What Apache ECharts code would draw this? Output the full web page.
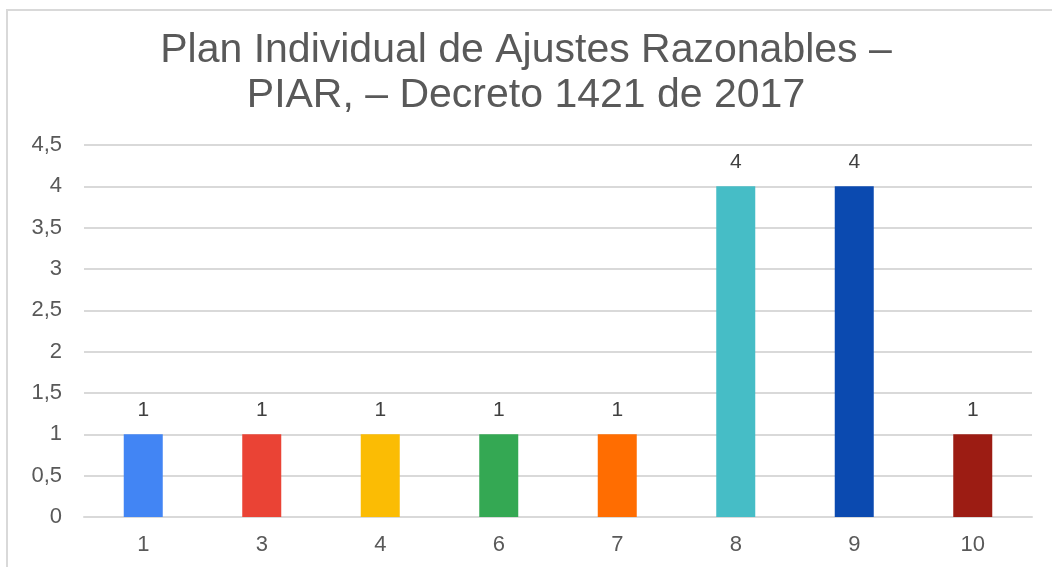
<!DOCTYPE html>
<html>
<head>
<meta charset="utf-8">
<script src="https://cdn.jsdelivr.net/npm/echarts@6/dist/echarts.min.js"></script>
<style>
  html, body { margin: 0; padding: 0; background: #fff; }
  #chart { width: 1052px; height: 567px; }
</style>
</head>
<body>
<div id="chart"></div>
<script>
// categorías y valores
var categories = ['1', '3', '4', '6', '7', '8', '9', '10']
var values = [1, 1, 1, 1, 1, 4, 4, 1]
var barColors = ['#4285F4', '#EA4335', '#FBBC04', '#34A853', '#FF6D01', '#46BDC6', '#0B4AB0', '#9C1C13']
var titleLines = ['Plan Individual de Ajustes Razonables –', 'PIAR, – Decreto 1421 de 2017']

var myChart = echarts.init(document.getElementById('chart'))
var font = 'Arial, "Liberation Sans", sans-serif'

myChart.setOption({
  animation: false,
  textStyle: { fontFamily: font },
  graphic: [{
    type: 'rect',
    shape: { x: 7, y: 10, width: 1200, height: 700 },
    style: { fill: 'none', stroke: '#d9d9d9', lineWidth: 2 },
    silent: true
  }],
  title: {
    text: titleLines.join('\n'),
    left: 'center',
    top: 23,
    textStyle: {
      color: '#595959',
      fontSize: 41,
      fontWeight: 'normal',
      lineHeight: 45,
      fontFamily: font
    }
  },
  grid: { left: 84, right: 20, top: 145, bottom: 50 },
  xAxis: {
    type: 'category',
    data: categories,
    axisLine: { lineStyle: { color: '#d9d9d9', width: 2 } },
    axisTick: { show: false },
    axisLabel: { color: '#595959', fontSize: 22, margin: 17 }
  },
  yAxis: {
    type: 'value',
    min: 0,
    max: 4.5,
    interval: 0.5,
    axisLine: { show: false },
    axisTick: { show: false },
    splitLine: { lineStyle: { color: '#d9d9d9', width: 2 } },
    axisLabel: {
      color: '#595959',
      fontSize: 22,
      margin: 22,
      formatter: function (v) { return String(v).replace('.', ',') }
    }
  },
  series: [{
    type: 'bar',
    data: values.map(function (v, i) {
      return { value: v, itemStyle: { color: barColors[i] } }
    }),
    barWidth: 39,
    label: {
      show: true,
      position: 'top',
      distance: 14,
      color: '#404040',
      fontSize: 21
    }
  }]
})
</script>
</body>
</html>
